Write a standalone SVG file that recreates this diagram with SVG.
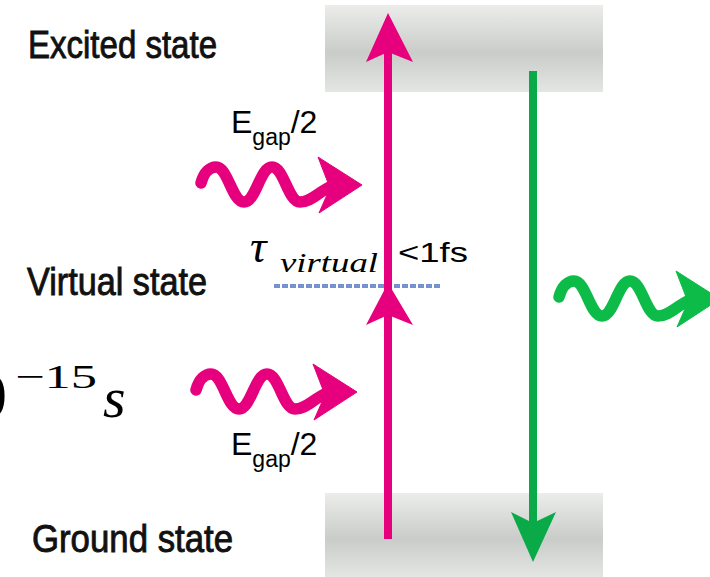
<svg xmlns="http://www.w3.org/2000/svg" xmlns:xlink="http://www.w3.org/1999/xlink" width="710" height="577" viewBox="0 0 710 577">
<style>
.state{font-family:"Liberation Sans",Arial,sans-serif;font-size:39px;fill:#111;stroke:#111;stroke-width:0.9px;}
.lbl{font-family:"Liberation Sans",Arial,sans-serif;fill:#000;}
.math{font-family:"Liberation Serif","DejaVu Serif",serif;fill:#000;}
.pink{fill:none;stroke:#e6007e;stroke-width:8;}
.green{fill:none;stroke:#0aaa48;stroke-width:8;}
.wave{fill:none;stroke-width:11.5;stroke-linecap:round;stroke-linejoin:round;}
</style>
<defs>
<linearGradient id="band" x1="0" y1="0" x2="0" y2="1">
<stop offset="0" stop-color="#ecedeb"/>
<stop offset="0.55" stop-color="#c9ccc9"/>
<stop offset="1" stop-color="#e4e6e4"/>
</linearGradient>
<g id="wv">
<path class="wave" d="M201,183 C204,172 210,167 216,167 C228,167 232,202 244,202 C256,202 260,167 272,167 C284,167 288,202 300,202 C311,202 318,192 332,186"/>
<path d="M318,157 L362,185 L319,213 L330,188 Z" stroke-linejoin="round"/>
</g>
<filter id="sh" x="-5%" y="-100%" width="110%" height="400%">
<feGaussianBlur stdDeviation="1.5"/>
</filter>
</defs>

<g id="excited-state">
<rect x="325" y="5" width="278" height="87" fill="url(#band)"/>
<text class="state" x="28" y="58" textLength="189" lengthAdjust="spacingAndGlyphs">Excited state</text>
</g>

<g id="ground-state">
<rect x="325" y="493" width="278" height="84" fill="url(#band)"/>
<text class="state" x="32" y="552" textLength="201" lengthAdjust="spacingAndGlyphs">Ground state</text>
</g>

<g id="virtual-state">
<line x1="274" y1="290" x2="441" y2="290" stroke="#8a8a8a" stroke-width="3" filter="url(#sh)" opacity="0.7"/>
<line x1="274" y1="286" x2="441" y2="286" stroke="#7592d0" stroke-width="4" stroke-dasharray="6,2"/>
<text class="state" x="27" y="295" textLength="180" lengthAdjust="spacingAndGlyphs">Virtual state</text>
<text class="math" x="250" y="262" font-size="46" font-style="italic">τ</text>
<text class="math" x="280" y="272" font-size="28" font-style="italic" textLength="98" lengthAdjust="spacingAndGlyphs">virtual</text>
<text class="lbl" x="398" y="262" font-size="28" textLength="70" lengthAdjust="spacingAndGlyphs">&lt;1fs</text>
</g>

<g id="lifetime">
<text class="math" x="-25" y="417" font-size="64">0</text>
<text class="math" x="15" y="388" font-size="34" textLength="82" lengthAdjust="spacingAndGlyphs">−15</text>
<text class="math" x="103" y="417" font-size="58" font-style="italic">s</text>
</g>

<g id="photon-top">
<use xlink:href="#wv" stroke="#e6007e" fill="#e6007e"/>
<text class="lbl" x="231" y="133" font-size="32">E<tspan font-size="23" dy="12">gap</tspan><tspan dy="-12">/2</tspan></text>
</g>

<g id="photon-bottom">
<use xlink:href="#wv" transform="translate(-5,207)" stroke="#e6007e" fill="#e6007e"/>
<text class="lbl" x="231" y="455" font-size="32">E<tspan font-size="23" dy="12">gap</tspan><tspan dy="-12">/2</tspan></text>
</g>

<g id="photon-emitted">
<use xlink:href="#wv" transform="translate(358,114)" stroke="#0dbb48" fill="#0dbb48"/>
</g>

<g id="connectors">
<line class="pink" x1="388" y1="539" x2="388" y2="40"/>
<path d="M388,13 L413,62 L388,52 L366,62 Z" fill="#e6007e"/>
<path d="M388,283 L413,325 L388,315 L366,325 Z" fill="#e6007e"/>
<line class="green" x1="533" y1="71" x2="533" y2="535"/>
<path d="M533,562 L556,512 L533,523 L511,512 Z" fill="#0aaa48"/>
</g>
</svg>
